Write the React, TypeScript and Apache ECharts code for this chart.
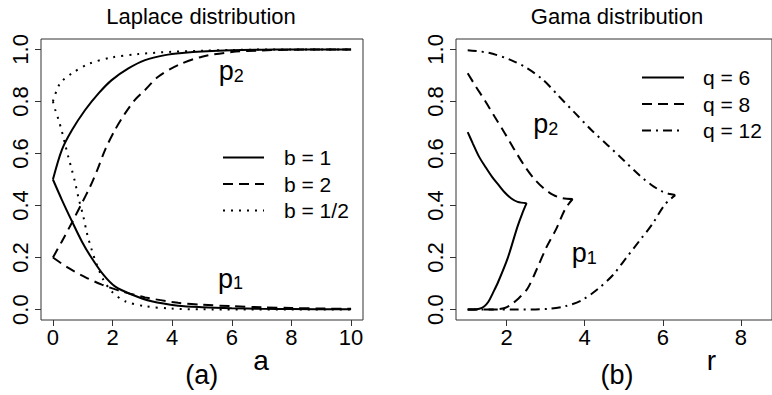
import React, { useEffect, useRef } from "react";
import * as echarts from "echarts";

const FONT = "'Liberation Sans', Arial, Helvetica, sans-serif";

// ---------- Panel (a): Laplace distribution ----------
const aTicks = [0, 2, 4, 6, 8, 10];
const probTicks = [0, 0.2, 0.4, 0.6, 0.8, 1.0];

// b = 1 (solid)
const aUpB1 = [0, 0.3, 0.64, 1.08, 1.53, 1.97, 2.53, 3.09, 3.76, 4.42, 5, 6, 7, 8, 10];
const pUpB1 = [0.5, 0.614, 0.69, 0.767, 0.831, 0.882, 0.927, 0.959, 0.978, 0.987, 0.992, 0.997, 0.999, 1.0, 1.0];
const aLoB1 = [0, 0.3, 0.64, 0.97, 1.3, 1.69, 2.08, 2.64, 3.31, 4.2, 5, 6, 7, 8, 10];
const pLoB1 = [0.5, 0.422, 0.339, 0.262, 0.198, 0.134, 0.089, 0.058, 0.032, 0.015, 0.009, 0.005, 0.003, 0.002, 0.001];

// b = 2 (dashed)
const aUpB2 = [0, 0.3, 0.64, 0.97, 1.25, 1.5, 1.75, 2.08, 2.42, 2.75, 3.09, 3.53, 4.2, 5, 6, 7, 8, 10];
const pUpB2 = [0.2, 0.262, 0.335, 0.409, 0.473, 0.54, 0.614, 0.69, 0.754, 0.806, 0.844, 0.895, 0.94, 0.972, 0.99, 0.996, 0.999, 1.0];
const aLoB2 = [0, 0.52, 1.08, 1.64, 2.19, 3.09, 4.2, 5, 6, 7, 8, 9, 10];
const pLoB2 = [0.2, 0.16, 0.125, 0.096, 0.074, 0.047, 0.026, 0.019, 0.013, 0.009, 0.006, 0.004, 0.003];

// b = 1/2 (dotted)
const aUpB3 = [0, 0.24, 0.64, 1.19, 1.97, 2.86, 3.98, 5, 6, 8, 10];
const pUpB3 = [0.8, 0.87, 0.908, 0.944, 0.969, 0.982, 0.991, 0.995, 0.998, 1.0, 1.0];
const aLoB3 = [0, 0.08, 0.19, 0.3, 0.41, 0.52, 0.64, 0.75, 0.86, 1.02, 1.14, 1.3, 1.47, 1.69, 1.97, 2.42, 3.09, 3.98, 5, 10];
const pLoB3 = [0.8, 0.767, 0.729, 0.685, 0.635, 0.585, 0.535, 0.486, 0.428, 0.358, 0.294, 0.23, 0.173, 0.115, 0.07, 0.032, 0.013, 0.004, 0.001, 0.0];

// ---------- Panel (b): Gama distribution ----------
const rTicks = [2, 4, 6, 8];

// q = 6 (solid)
const rUpQ6 = [1.0, 1.13, 1.29, 1.46, 1.62, 1.79, 1.95, 2.11, 2.28, 2.51];
const pUpQ6 = [0.682, 0.639, 0.588, 0.547, 0.511, 0.479, 0.45, 0.428, 0.414, 0.409];
const rLoQ6 = [1, 1.15, 1.3, 1.42, 1.53, 1.65, 1.78, 2.03, 2.27, 2.4, 2.51];
const pLoQ6 = [0, 0, 0.003, 0.012, 0.03, 0.065, 0.106, 0.2, 0.316, 0.37, 0.409];

// q = 8 (dashed)
const rUpQ8 = [1, 1.21, 1.46, 1.7, 1.95, 2.2, 2.44, 2.69, 2.94, 3.19, 3.43, 3.69];
const pUpQ8 = [0.908, 0.857, 0.799, 0.739, 0.678, 0.614, 0.556, 0.505, 0.467, 0.441, 0.428, 0.425];
const rLoQ8 = [1, 1.5, 1.8, 1.95, 2.1, 2.28, 2.53, 2.77, 3.02, 3.27, 3.5, 3.69];
const pLoQ8 = [0, 0, 0.002, 0.006, 0.018, 0.04, 0.08, 0.155, 0.24, 0.31, 0.387, 0.425];

// q = 12 (dot-dash)
const rUpQ12 = [1, 1.54, 2.11, 2.53, 2.94, 3.35, 3.76, 4.17, 4.58, 4.99, 5.41, 5.7, 5.97, 6.15, 6.32];
const pUpQ12 = [0.997, 0.987, 0.959, 0.927, 0.882, 0.818, 0.754, 0.69, 0.633, 0.575, 0.515, 0.48, 0.455, 0.445, 0.44];
const rLoQ12 = [1, 2.27, 3.09, 3.5, 3.91, 4.32, 4.73, 5.06, 5.39, 5.72, 6.05, 6.32];
const pLoQ12 = [0, 0, 0.003, 0.013, 0.035, 0.077, 0.134, 0.198, 0.262, 0.326, 0.403, 0.44];

// legend names
const bNames = ["b = 1", "b = 2", "b = 1/2"];
const qNames = ["q = 6", "q = 8", "q = 12"];

// curve labels (data coordinates)
const labelsA = [
  { x: 5.98, y: 0.917, sub: "2" },
  { x: 5.96, y: 0.119, sub: "1" },
];
const labelsB = [
  { x: 3.0, y: 0.713, sub: "2" },
  { x: 3.99, y: 0.217, sub: "1" },
];

const SOLID: any = "solid";
const DASHED = [10, 6];
const DOTTED = [2, 6];
const DOTDASH = [9, 5, 2, 5];

const zip = (xs: number[], ys: number[]) => xs.map((x, i) => [x, ys[i]]);

function curve(name: string, xs: number[], ys: number[], gi: number, type: any) {
  return {
    type: "line",
    name,
    xAxisIndex: gi,
    yAxisIndex: gi,
    data: zip(xs, ys),
    symbol: "none",
    showSymbol: false,
    smooth: 0.3,
    silent: true,
    lineStyle: { color: "#000", width: 2, type },
    itemStyle: { color: "#000" },
  };
}

function labelSeries(items: { x: number; y: number; sub: string }[], gi: number) {
  return {
    type: "scatter",
    name: "labels" + gi,
    xAxisIndex: gi,
    yAxisIndex: gi,
    symbolSize: 1,
    silent: true,
    itemStyle: { color: "#fff", opacity: 1 },
    data: items.map((it) => ({ value: [it.x, it.y], sub: it.sub })),
    label: {
      show: true,
      position: "inside",
      color: "#000",
      opacity: 1,
      textBorderWidth: 0,
      textBorderColor: "transparent",
      formatter: (p: any) => "{p|p}{s|" + p.data.sub + "}",
      rich: {
        p: { fontSize: 27, lineHeight: 27, color: "#000", textBorderWidth: 0, fontFamily: FONT },
        s: { fontSize: 18, lineHeight: 10, verticalAlign: "bottom", color: "#000", textBorderWidth: 0, fontFamily: FONT },
      },
    },
  };
}

function xAxisCfg(gi: number, min: number, max: number, ticks: number[]) {
  return {
    type: "value",
    gridIndex: gi,
    min,
    max,
    axisLine: { show: false, onZero: false },
    axisTick: { show: true, length: 6, customValues: ticks, lineStyle: { color: "#333", width: 1 } },
    axisLabel: {
      customValues: ticks,
      fontSize: 22,
      color: "#000",
      fontFamily: FONT,
      margin: 6,
      formatter: (v: number) => String(v),
    },
    splitLine: { show: false },
  };
}

function yAxisCfg(gi: number) {
  return {
    type: "value",
    gridIndex: gi,
    min: -0.04,
    max: 1.04,
    axisLine: { show: false, onZero: false },
    axisTick: { show: true, length: 6, customValues: probTicks, lineStyle: { color: "#333", width: 1 } },
    axisLabel: {
      customValues: probTicks,
      rotate: 90,
      fontSize: 22,
      color: "#000",
      fontFamily: FONT,
      margin: 10,
      formatter: (v: number) => v.toFixed(1),
    },
    splitLine: { show: false },
  };
}

function legendCfg(names: string[], left: number, top: number, itemWidth: number, pad: number) {
  return {
    data: names,
    orient: "vertical",
    left,
    top,
    padding: 0,
    itemWidth,
    itemHeight: 14,
    itemGap: 5.5,
    selectedMode: false,
    itemStyle: { opacity: 0 },
    textStyle: { fontSize: 21, lineHeight: 20, color: "#000", fontFamily: FONT, padding: [0, 0, 0, pad] },
  };
}

function txt(text: string, x: number, y: number, fontSize: number) {
  return {
    type: "text",
    x,
    y,
    silent: true,
    style: { text, fontSize, fontFamily: FONT, fill: "#000", textAlign: "center", textVerticalAlign: "middle" },
  };
}

export default function App() {
  const ref = useRef<HTMLDivElement>(null);
  useEffect(() => {
    if (!ref.current) return;
    const chart = echarts.init(ref.current, undefined, { renderer: "svg" });
    const option: any = {
      animation: false,
      backgroundColor: "#fff",
      textStyle: { fontFamily: FONT, color: "#000" },
      grid: [
        { left: 41, top: 39, width: 322, height: 281, show: true, borderColor: "#333", borderWidth: 1, containLabel: false },
        { left: 456, top: 39, width: 328, height: 281, show: true, borderColor: "#333", borderWidth: 1, containLabel: false },
      ],
      xAxis: [xAxisCfg(0, -0.4, 10.4, aTicks), xAxisCfg(1, 0.7, 8.8, rTicks)],
      yAxis: [yAxisCfg(0), yAxisCfg(1)],
      legend: [legendCfg(bNames, 222, 147, 41, 15), legendCfg(qNames, 641, 67, 42, 14)],
      series: [
        curve(bNames[0], aUpB1, pUpB1, 0, SOLID),
        curve(bNames[0], aLoB1, pLoB1, 0, SOLID),
        curve(bNames[1], aUpB2, pUpB2, 0, DASHED),
        curve(bNames[1], aLoB2, pLoB2, 0, DASHED),
        curve(bNames[2], aUpB3, pUpB3, 0, DOTTED),
        curve(bNames[2], aLoB3, pLoB3, 0, DOTTED),
        curve(qNames[0], rUpQ6, pUpQ6, 1, SOLID),
        curve(qNames[0], rLoQ6, pLoQ6, 1, SOLID),
        curve(qNames[1], rUpQ8, pUpQ8, 1, DASHED),
        curve(qNames[1], rLoQ8, pLoQ8, 1, DASHED),
        curve(qNames[2], rUpQ12, pUpQ12, 1, DOTDASH),
        curve(qNames[2], rLoQ12, pLoQ12, 1, DOTDASH),
        labelSeries(labelsA, 0),
        labelSeries(labelsB, 1),
      ],
      graphic: [
        txt("Laplace distribution", 201, 16, 22),
        txt("Gama distribution", 617, 16, 22),
        txt("a", 261, 360.6, 28),
        txt("r", 711.5, 360.6, 28),
        txt("(a)", 201.7, 374.7, 27),
        txt("(b)", 617, 374.5, 27),
      ],
    };
    chart.setOption(option);
    return () => chart.dispose();
  }, []);
  return <div ref={ref} style={{ position: "absolute", left: 0, top: 0, width: 772, height: 395 }} />;
}
